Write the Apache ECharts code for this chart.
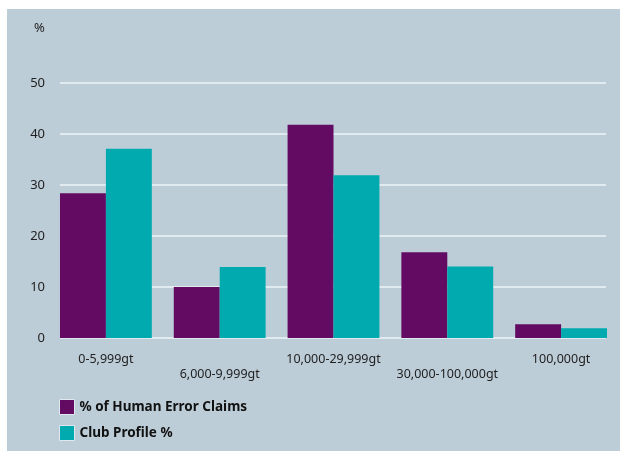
<!DOCTYPE html>
<html>
	<head>
		<meta charset="utf-8" />
		<title></title>
		<script src="https://cdn.jsdelivr.net/npm/echarts@6/dist/echarts.min.js" type="text/javascript" charset="utf-8"></script>
		<style type="text/css">
			html, body { margin: 0; padding: 0; background: #fff; }
			#main { width: 620px; height: 451px; }
		</style>
	</head>
	<body>
		<div id="main"></div>
		<script type="text/javascript">
			// tonnage bands
			var categories = ['0-5,999gt', '6,000-9,999gt', '10,000-29,999gt', '30,000-100,000gt', '100,000gt'];
			var humanError = [28.4, 10, 41.8, 16.8, 2.7];
			var clubProfile = [37.1, 13.9, 31.9, 14, 1.9];
			var yTicks = [0, 10, 20, 30, 40, 50];

			var purple = '#630b63';
			var teal = '#00aaae';
			var font = '"Noto Sans", sans-serif';

			var myChart = echarts.init(document.getElementById('main'));
			var option = {
				backgroundColor: '#fff',
				animation: false,
				graphic: [{
					type: 'rect', left: 7, top: 9, z: -10,
					shape: { width: 613, height: 442 },
					style: { fill: '#bdcdd8' }
				}, {
					type: 'text', left: 34, top: 22,
					style: { text: '%', fill: '#222', font: '13px ' + font }
				}],
				legend: {
					orient: 'vertical', left: 59, top: 399, padding: 0,
					itemWidth: 15, itemHeight: 15, itemGap: 10,
					icon: 'rect',
					itemStyle: { borderColor: '#dfe8ee', borderWidth: 1 },
					textStyle: { fontFamily: font, fontSize: 13.5, fontWeight: 'bold', color: '#111' },
					data: ['% of Human Error Claims', 'Club Profile %']
				},
				grid: [
					// bars
					{ left: 49, right: 2, top: 83, bottom: 451 - 338, containLabel: false },
					// grid lines + y labels
					{ left: 60, right: 14, top: 83, bottom: 451 - 338, containLabel: false }
				],
				xAxis: [{
					type: 'category', gridIndex: 0, data: categories,
					axisLine: { show: false }, axisTick: { show: false },
					axisLabel: {
						color: '#222', fontFamily: font, fontSize: 12.5, margin: 14, lineHeight: 15,
						interval: 0,
						formatter: function (v, i) { return i % 2 ? '\n' + v : v; }
					}
				}, {
					type: 'value', gridIndex: 1, show: false
				}],
				yAxis: [{
					type: 'value', gridIndex: 0, min: 0, max: 50, interval: 10,
					show: false, splitLine: { show: false }
				}, {
					type: 'value', gridIndex: 1, min: yTicks[0], max: yTicks[yTicks.length - 1], interval: 10,
					axisLine: { show: false }, axisTick: { show: false },
					axisLabel: { color: '#222', fontFamily: font, fontSize: 13, margin: 15 },
					splitLine: { lineStyle: { color: '#eef3f6', width: 1.5 } }
				}],
				series: [{
					name: '% of Human Error Claims', type: 'bar', xAxisIndex: 0, yAxisIndex: 0,
					data: humanError, barGap: '0%', barCategoryGap: '19.3%',
					itemStyle: { color: purple }, z: 3
				}, {
					name: 'Club Profile %', type: 'bar', xAxisIndex: 0, yAxisIndex: 0,
					data: clubProfile, barGap: '0%', barCategoryGap: '19.3%',
					itemStyle: { color: teal }, z: 3
				}]
			};
			myChart.setOption(option);
		</script>
	</body>
</html>
